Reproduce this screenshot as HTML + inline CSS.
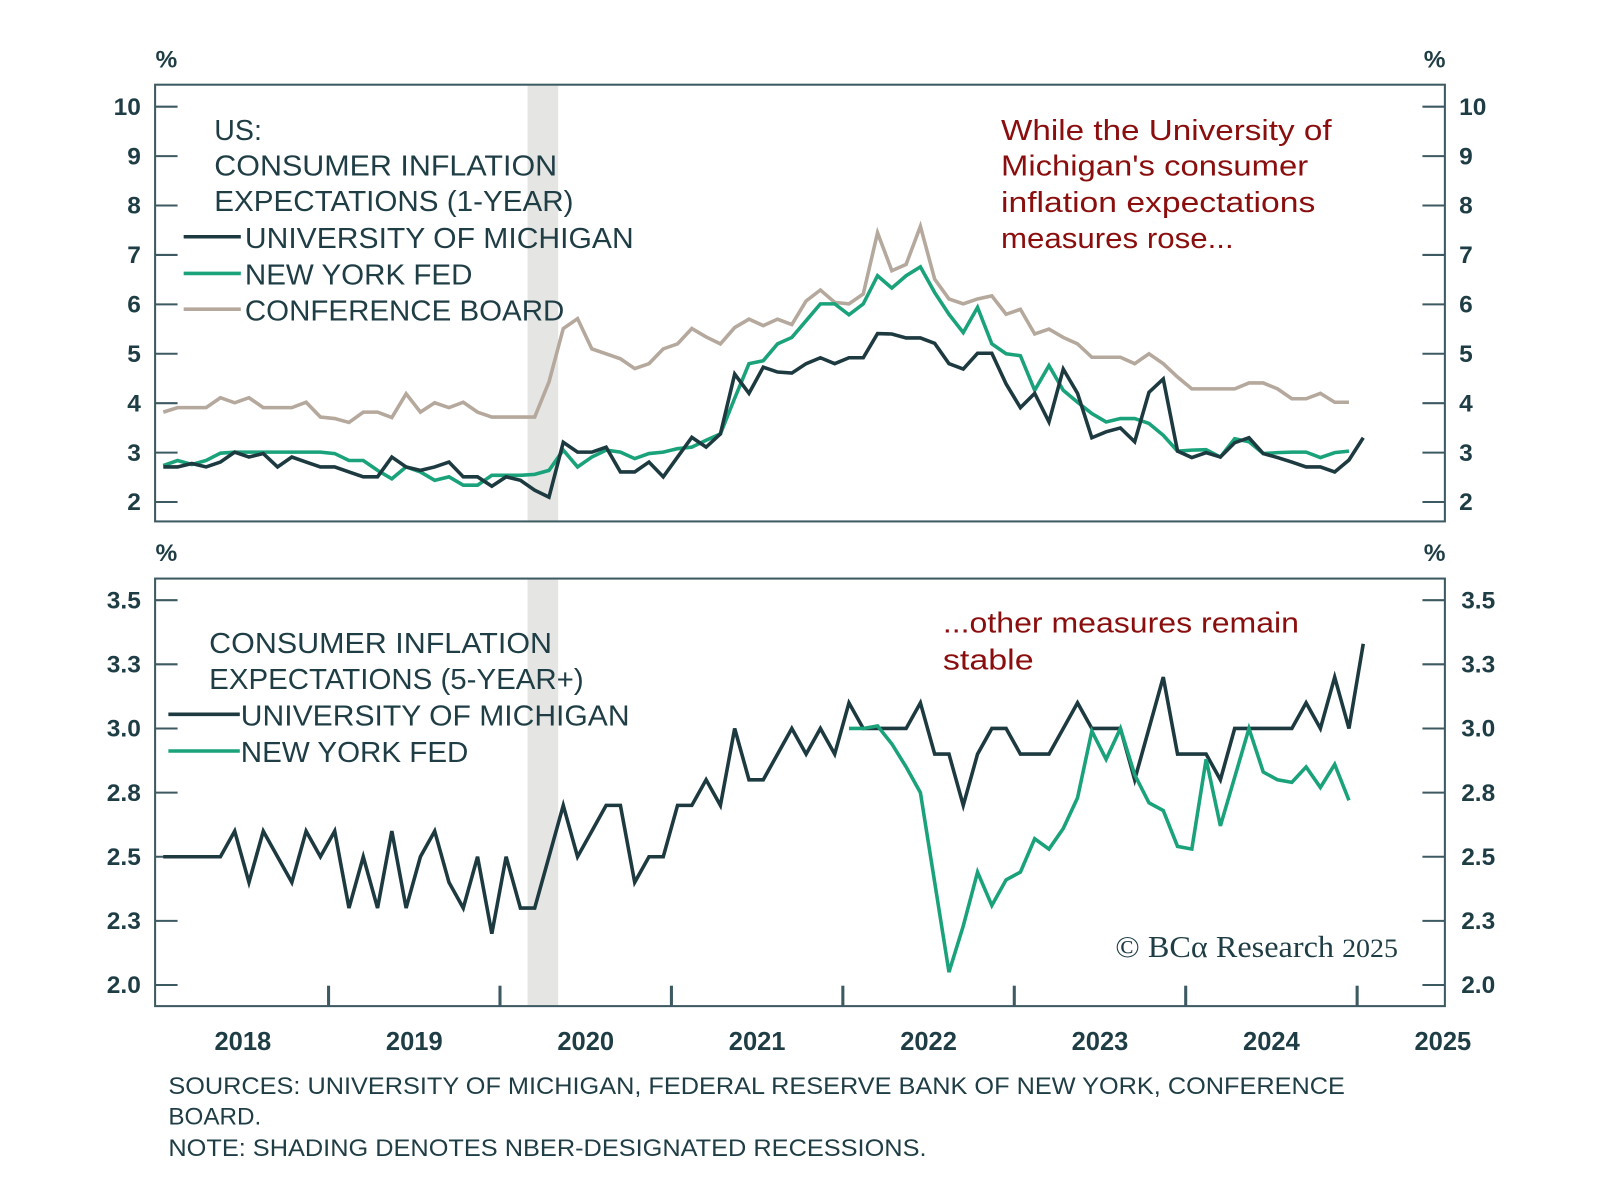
<!DOCTYPE html>
<html><head><meta charset="utf-8"><style>
html,body{margin:0;padding:0;background:#fff;}
svg{display:block;font-family:"Liberation Sans",sans-serif;}
</style></head><body>
<svg id="chart" width="1600" height="1177" viewBox="0 0 1600 1177" xmlns="http://www.w3.org/2000/svg">
<rect width="1600" height="1177" fill="#fff"/>
<g transform="scale(1.0204)">
<g id="static">
<rect x="517" y="84" width="30" height="426" fill="#e5e5e3"/>
<rect x="517" y="568" width="30" height="417" fill="#e5e5e3"/>
<text x="163" y="66" font-size="24" font-weight="bold" fill="#1f3d45" text-anchor="middle">%</text>
<text x="1406" y="66" font-size="24" font-weight="bold" fill="#1f3d45" text-anchor="middle">%</text>
<text x="163" y="550" font-size="24" font-weight="bold" fill="#1f3d45" text-anchor="middle">%</text>
<text x="1406" y="550" font-size="24" font-weight="bold" fill="#1f3d45" text-anchor="middle">%</text>
<g font-size="28" fill="#1f3d45">
<text x="210" y="137">US:</text>
<text x="210" y="172" textLength="336" lengthAdjust="spacingAndGlyphs">CONSUMER INFLATION</text>
<text x="210" y="207" textLength="352" lengthAdjust="spacingAndGlyphs">EXPECTATIONS (1-YEAR)</text>
<line x1="180" y1="232" x2="236" y2="232" stroke="#1c3a40" stroke-width="3.5"/>
<text x="240" y="243" textLength="381" lengthAdjust="spacingAndGlyphs">UNIVERSITY OF MICHIGAN</text>
<line x1="180" y1="268" x2="236" y2="268" stroke="#1aa27a" stroke-width="3.5"/>
<text x="240" y="279" textLength="223" lengthAdjust="spacingAndGlyphs">NEW YORK FED</text>
<line x1="180" y1="303" x2="236" y2="303" stroke="#b5a89c" stroke-width="3.5"/>
<text x="240" y="314" textLength="313" lengthAdjust="spacingAndGlyphs">CONFERENCE BOARD</text>
</g>
<g font-size="28" fill="#8b0e0e">
<text x="981" y="137" textLength="324" lengthAdjust="spacingAndGlyphs">While the University of</text>
<text x="981" y="172" textLength="301" lengthAdjust="spacingAndGlyphs">Michigan's consumer</text>
<text x="981" y="208" textLength="308" lengthAdjust="spacingAndGlyphs">inflation expectations</text>
<text x="981" y="243" textLength="228" lengthAdjust="spacingAndGlyphs">measures rose...</text>
</g>
<g font-size="28" fill="#1f3d45">
<text x="205" y="640" textLength="336" lengthAdjust="spacingAndGlyphs">CONSUMER INFLATION</text>
<text x="205" y="675" textLength="367" lengthAdjust="spacingAndGlyphs">EXPECTATIONS (5-YEAR+)</text>
<line x1="165" y1="700" x2="235" y2="700" stroke="#1c3a40" stroke-width="3.5"/>
<text x="236" y="711" textLength="381" lengthAdjust="spacingAndGlyphs">UNIVERSITY OF MICHIGAN</text>
<line x1="165" y1="736" x2="235" y2="736" stroke="#1aa27a" stroke-width="3.5"/>
<text x="236" y="747" textLength="223" lengthAdjust="spacingAndGlyphs">NEW YORK FED</text>
</g>
<g font-size="28" fill="#8b0e0e">
<text x="924" y="620" textLength="349" lengthAdjust="spacingAndGlyphs">...other measures remain</text>
<text x="924" y="656" textLength="89" lengthAdjust="spacingAndGlyphs">stable</text>
</g>
<text x="1093" y="938" font-family="Liberation Serif, serif" font-size="30" fill="#1f3d45" textLength="277" lengthAdjust="spacingAndGlyphs">© BCα Research <tspan font-size="26">2025</tspan></text>
<g font-size="24" fill="#1f3d45">
<text x="165" y="1072" textLength="1153" lengthAdjust="spacingAndGlyphs">SOURCES: UNIVERSITY OF MICHIGAN, FEDERAL RESERVE BANK OF NEW YORK, CONFERENCE</text>
<text x="165" y="1102" textLength="91" lengthAdjust="spacingAndGlyphs">BOARD.</text>
<text x="165" y="1133" textLength="743" lengthAdjust="spacingAndGlyphs">NOTE: SHADING DENOTES NBER-DESIGNATED RECESSIONS.</text>
</g>
</g>
<g id="dyn"></g>
</g>
</svg>
<script>
const topTicks = [2,3,4,5,6,7,8,9,10];
const bottomTicks = [2.0,2.25,2.5,2.75,3.0,3.25,3.5];
const bottomTickLabels = ["2.0","2.3","2.5","2.8","3.0","3.3","3.5"];
const yearLabels = ["2018","2019","2020","2021","2022","2023","2024","2025"];
const michigan1y = [2.71,2.71,2.78,2.71,2.81,3.01,2.91,2.98,2.71,2.91,2.81,2.71,2.71,2.61,2.51,2.51,2.91,2.71,2.64,2.71,2.81,2.51,2.51,2.32,2.51,2.44,2.24,2.10,3.21,3.01,3.01,3.11,2.61,2.61,2.81,2.51,2.91,3.31,3.11,3.38,4.59,4.20,4.73,4.63,4.61,4.80,4.92,4.80,4.92,4.92,5.41,5.40,5.32,5.32,5.21,4.80,4.69,5.01,5.01,4.39,3.91,4.20,3.62,4.69,4.20,3.30,3.42,3.50,3.22,4.22,4.49,3.03,2.90,3.00,2.91,3.20,3.30,2.98,2.90,2.81,2.71,2.71,2.61,2.85,3.30];
const nyfed1y = [2.74,2.84,2.76,2.84,2.99,3.01,3.01,3.01,3.01,3.01,3.01,3.01,2.98,2.84,2.84,2.64,2.47,2.71,2.61,2.44,2.51,2.34,2.34,2.54,2.54,2.54,2.56,2.64,3.05,2.71,2.91,3.05,3.01,2.88,2.98,3.01,3.08,3.11,3.25,3.38,4.10,4.80,4.86,5.20,5.33,5.67,6.01,6.01,5.79,6.01,6.58,6.33,6.58,6.76,6.24,5.80,5.43,5.94,5.20,5.00,4.96,4.26,4.76,4.26,4.02,3.79,3.62,3.69,3.69,3.59,3.35,3.03,3.05,3.06,2.91,3.28,3.22,2.98,3.00,3.01,3.01,2.90,3.00,3.03];
const confBoard1y = [3.82,3.91,3.91,3.91,4.11,4.01,4.11,3.91,3.91,3.91,4.02,3.72,3.69,3.61,3.82,3.82,3.71,4.19,3.82,4.01,3.91,4.02,3.82,3.72,3.72,3.72,3.72,4.43,5.51,5.71,5.10,5.00,4.90,4.70,4.80,5.10,5.20,5.51,5.34,5.20,5.53,5.70,5.57,5.70,5.59,6.07,6.29,6.04,6.01,6.21,7.45,6.68,6.81,7.58,6.51,6.11,6.01,6.11,6.17,5.80,5.90,5.40,5.50,5.33,5.20,4.93,4.93,4.93,4.80,5.00,4.80,4.53,4.29,4.29,4.29,4.29,4.41,4.41,4.29,4.09,4.09,4.20,4.02,4.02];
const michigan5y = [2.5,2.5,2.5,2.5,2.5,2.6,2.4,2.6,2.5,2.4,2.6,2.5,2.6,2.3,2.5,2.3,2.6,2.3,2.5,2.6,2.4,2.3,2.5,2.2,2.5,2.3,2.3,2.5,2.7,2.5,2.6,2.7,2.7,2.4,2.5,2.5,2.7,2.7,2.8,2.7,3.0,2.8,2.8,2.9,3.0,2.9,3.0,2.9,3.1,3.0,3.0,3.0,3.0,3.1,2.9,2.9,2.7,2.9,3.0,3.0,2.9,2.9,2.9,3.0,3.1,3.0,3.0,3.0,2.8,3.0,3.2,2.9,2.9,2.9,2.8,3.0,3.0,3.0,3.0,3.0,3.1,3.0,3.2,3.0,3.33];
const nyfedStart = 48;
const nyfed5y = [3.0,3.0,3.01,2.94,2.85,2.75,2.40,2.05,2.23,2.44,2.31,2.41,2.44,2.57,2.53,2.61,2.73,2.99,2.88,3.0,2.82,2.71,2.68,2.54,2.53,2.88,2.62,2.81,3.0,2.83,2.80,2.79,2.85,2.77,2.86,2.72];

const NS="http://www.w3.org/2000/svg";
const g=document.getElementById('dyn');
const X0=152,X1=1416,TT=83,TB=511,BT=567,BB=986;
function xS(i){return 160+14*i;}
function yT(v){return 492-(v-2)*48.43;}
function yB(v){return 965.3-(v-2)*251.4;}
function mk(tag,attrs){const e=document.createElementNS(NS,tag);for(const k in attrs)e.setAttribute(k,attrs[k]);g.appendChild(e);return e;}
const AX="#3d5962";
let f1=mk('rect',{x:X0,y:TT,width:X1-X0,height:TB-TT,fill:'none',stroke:AX,'stroke-width':2});


let f2=mk('rect',{x:X0,y:BT,width:X1-X0,height:BB-BT,fill:'none',stroke:AX,'stroke-width':2});


topTicks.forEach(v=>{
  const y=yT(v);
  mk('line',{x1:X0,y1:y,x2:X0+22,y2:y,stroke:AX,'stroke-width':2});
  mk('line',{x1:X1-22,y1:y,x2:X1,y2:y,stroke:AX,'stroke-width':2});
  let l=mk('text',{x:138,y:y+8,'font-size':24,'font-weight':'bold',fill:'#1f3d45','text-anchor':'end'});
  l.textContent=String(v);
  
  
  let r=mk('text',{x:1430,y:y+8,'font-size':24,'font-weight':'bold',fill:'#1f3d45'});
  r.textContent=String(v);
  
  
});
bottomTicks.forEach((v,k)=>{
  const y=yB(v);
  mk('line',{x1:X0,y1:y,x2:X0+22,y2:y,stroke:AX,'stroke-width':2});
  mk('line',{x1:X1-22,y1:y,x2:X1,y2:y,stroke:AX,'stroke-width':2});
  let l=mk('text',{x:138,y:y+8,'font-size':24,'font-weight':'bold',fill:'#1f3d45','text-anchor':'end'});
  l.textContent=bottomTickLabels[k];
  
  
  let r=mk('text',{x:1432,y:y+8,'font-size':24,'font-weight':'bold',fill:'#1f3d45'});
  r.textContent=bottomTickLabels[k];
  
  
});
yearLabels.forEach((lab,k)=>{
  const xt=154+168*k;
  if(k>0) mk('line',{x1:xt,y1:BB,x2:xt,y2:BB-20,stroke:AX,'stroke-width':3});
  let t=mk('text',{x:xt+84,y:1029,'font-size':25,'font-weight':'bold',fill:'#1f3d45','text-anchor':'middle'});
  t.textContent=lab;
  
  
});
function line(arr,start,ys,color,name){
  const pts=arr.map((v,i)=>xS(i+start).toFixed(1)+','+ys(v).toFixed(1)).join(' ');
  const p=mk('polyline',{points:pts,fill:'none',stroke:color,'stroke-width':3.5,'stroke-linejoin':'miter'});
  
  
}
line(confBoard1y,0,yT,'#b5a89c','conference-board-1y-line');
line(nyfed1y,0,yT,'#1aa27a','ny-fed-1y-line');
line(michigan1y,0,yT,'#1c3a40','michigan-1y-line');
line(michigan5y,0,yB,'#1c3a40','michigan-5y-line');
line(nyfed5y,nyfedStart,yB,'#1aa27a','ny-fed-5y-line');
</script>
</body></html>
